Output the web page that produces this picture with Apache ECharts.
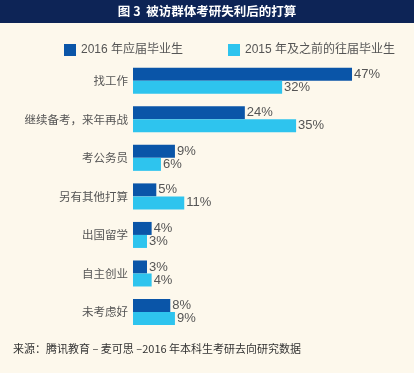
<!DOCTYPE html>
<html><head><meta charset="utf-8">
<script src="https://cdn.jsdelivr.net/npm/echarts@6/dist/echarts.min.js"></script>
<style>html,body{margin:0;padding:0;background:#fdf8ec}#c{width:414px;height:373px}</style>
</head><body><div id="c"></div>
<script>
const categories = ['找工作','继续备考，来年再战','考公务员','另有其他打算','出国留学','自主创业','未考虑好'];
const series2016 = [47,24,9,5,4,3,8];
const series2015 = [32,35,6,11,3,4,9];
const seriesNames = ['2016 年应届毕业生','2015 年及之前的往届毕业生'];
const titleText = '图 3  被访群体考研失利后的打算';
const sourceText = '来源：腾讯教育 – 麦可思 –2016 年本科生考研去向研究数据';

const chart = echarts.init(document.getElementById('c'));
const font = '"Liberation Sans","Noto Sans CJK SC",sans-serif';
const lbl = {show:true, position:'right', distance:2, formatter:'{c}%', color:'#555', fontSize:13, fontFamily:font};
chart.setOption({
  backgroundColor:'#fdf8ec',
  animation:false,
  graphic:[
    {type:'rect', left:0, top:0, shape:{width:414, height:23}, style:{fill:'#0d2456'}},
    {type:'text', left:'center', top:5, style:{text:titleText, fill:'#fff', font:'bold 12.5px "Noto Sans CJK SC",sans-serif'}},
    {type:'text', left:13, top:343, style:{text:sourceText, fill:'#333', font:'11px "Noto Sans CJK SC",sans-serif'}}
  ],
  legend:[
    {data:[seriesNames[0]], left:59, top:39, itemWidth:12, itemHeight:12, itemGap:3, icon:'rect',
     textStyle:{color:'#555', fontSize:12, fontFamily:font}},
    {data:[seriesNames[1]], left:223, top:39, itemWidth:12, itemHeight:12, itemGap:3, icon:'rect',
     textStyle:{color:'#555', fontSize:12, fontFamily:font}}
  ],
  grid:{left:133, right:48, top:61.5, bottom:41.7},
  xAxis:{type:'value', min:0, max:50, show:false},
  yAxis:{type:'category', data:categories, inverse:true,
    axisLine:{show:false}, axisTick:{show:false},
    axisLabel:{color:'#555', fontSize:11.5, margin:5, fontFamily:'"Noto Sans CJK SC",sans-serif'}},
  series:[
    {name:seriesNames[0], type:'bar', data:series2016, barWidth:13, barGap:'0%', itemStyle:{color:'#0a55a8'}, label:lbl},
    {name:seriesNames[1], type:'bar', data:series2015, barWidth:13, barGap:'0%', itemStyle:{color:'#2ec4ee'}, label:lbl}
  ]
});
</script></body></html>
